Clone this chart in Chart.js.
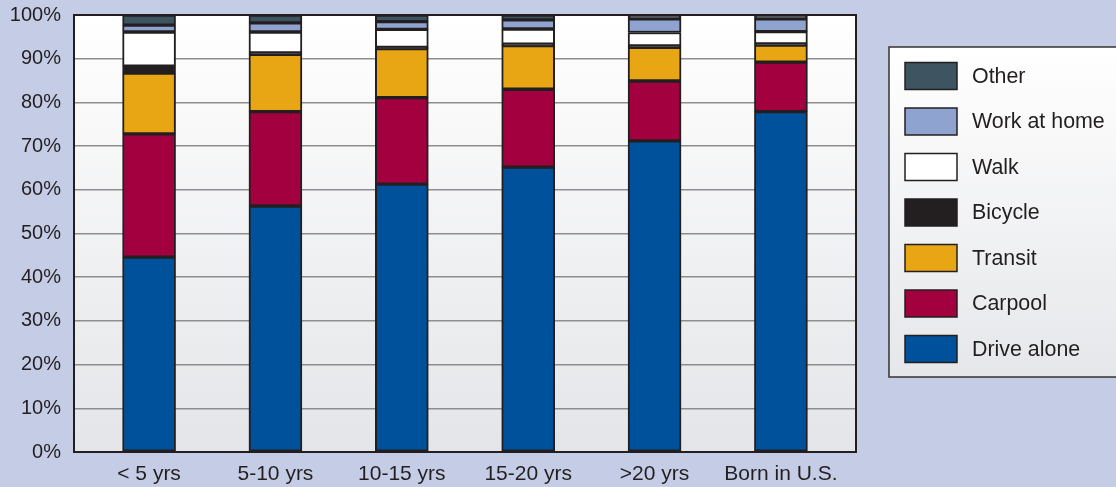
<!DOCTYPE html>
<html>
<head>
<meta charset="utf-8">
<script src="https://cdn.jsdelivr.net/npm/chart.js@4/dist/chart.umd.min.js"></script>
<style>
  html, body { margin: 0; padding: 0; background: #c5cde6; }
  #wrap { width: 1116px; height: 487px; }
</style>
</head>
<body>
<div id="wrap"><canvas id="c" width="1116" height="487"></canvas></div>
<script>
// Commute mode share by years in the U.S. (percent of workers)
const categories = ['< 5 yrs', '5-10 yrs', '10-15 yrs', '15-20 yrs', '>20 yrs', 'Born in U.S.'];
const driveAlone = [44.6, 56.3, 61.3, 65.2, 71.2, 77.9];
const carpool    = [28.2, 21.6, 19.8, 17.8, 13.7, 11.3];
const transit    = [13.9, 13.1, 11.2, 10.0, 7.7, 3.9];
const bicycle    = [1.6, 0.3, 0.3, 0.3, 0.3, 0.3];
const walk       = [7.8, 4.8, 4.1, 3.5, 3.1, 2.8];
const workAtHome = [1.6, 2.1, 1.8, 2.1, 3.1, 2.9];
const other      = [2.3, 1.8, 1.5, 1.1, 0.9, 0.9];
const yTicks     = [0, 10, 20, 30, 40, 50, 60, 70, 80, 90, 100];

const FONT = '"Liberation Sans", Arial, Helvetica, sans-serif';
const INK = '#231f20';

const series = [
  { label: 'Drive alone',  values: driveAlone, color: '#00519b' },
  { label: 'Carpool',      values: carpool,    color: '#a3003f' },
  { label: 'Transit',      values: transit,    color: '#e8a614' },
  { label: 'Bicycle',      values: bicycle,    color: '#231f20' },
  { label: 'Walk',         values: walk,       color: '#ffffff' },
  { label: 'Work at home', values: workAtHome, color: '#8fa3d1' },
  { label: 'Other',        values: other,      color: '#3e5461' }
];

// Backdrop: page colour plus a soft vertical gradient inside the plot
const backdrop = {
  id: 'backdrop',
  beforeDraw(chart) {
    const { ctx, chartArea: a } = chart;
    ctx.save();
    ctx.fillStyle = '#c5cde6';
    ctx.fillRect(0, 0, chart.width, chart.height);
    const g = ctx.createLinearGradient(0, a.top, 0, a.bottom);
    g.addColorStop(0, '#ffffff');
    g.addColorStop(1, '#e4e5e8');
    ctx.fillStyle = g;
    ctx.fillRect(a.left, a.top, a.right - a.left, a.bottom - a.top);
    ctx.restore();
  },
  beforeDatasetsDraw(chart) {
    const { ctx, chartArea: a } = chart;
    ctx.save();
    ctx.strokeStyle = INK;
    ctx.lineWidth = 2;
    ctx.strokeRect(a.left, a.top, a.right - a.left, a.bottom - a.top);
    ctx.restore();
  }
};

// Boxed legend on the right, top entry first
const boxLegend = {
  id: 'boxLegend',
  afterDraw(chart) {
    const { ctx } = chart;
    const x0 = 889, y0 = 47, y1 = 377;
    ctx.save();
    const g = ctx.createLinearGradient(0, y0, 0, y1);
    g.addColorStop(0, '#ffffff');
    g.addColorStop(1, '#e6e7ea');
    ctx.fillStyle = g;
    ctx.fillRect(x0, y0, chart.width - x0 + 5, y1 - y0);
    ctx.strokeStyle = '#333333';
    ctx.lineWidth = 1.5;
    ctx.strokeRect(x0, y0, chart.width - x0 + 5, y1 - y0);

    const ds = chart.data.datasets.slice().reverse();
    ctx.font = '21.4px ' + FONT;
    ctx.textBaseline = 'middle';
    ctx.textAlign = 'left';
    ds.forEach((d, i) => {
      const cy = 76 + i * 45.5;
      ctx.fillStyle = d.backgroundColor;
      ctx.fillRect(905, cy - 13.5, 52, 27);
      ctx.strokeStyle = INK;
      ctx.lineWidth = 1.5;
      ctx.strokeRect(905, cy - 13.5, 52, 27);
      ctx.fillStyle = '#231f20';
      ctx.fillText(d.label, 972, cy + 1);
    });
    ctx.restore();
  }
};

new Chart(document.getElementById('c'), {
  type: 'bar',
  data: {
    datasets: series.map(s => ({
      label: s.label,
      data: s.values.map((v, i) => ({ x: i, y: v })),
      backgroundColor: s.color,
      borderColor: INK,
      borderWidth: 2,
      borderSkipped: false,
      barThickness: 53
    }))
  },
  options: {
    responsive: false,
    animation: false,
    devicePixelRatio: 1,
    layout: { padding: { top: 15, right: 260, bottom: 0, left: 0 } },
    plugins: {
      legend: { display: false },
      tooltip: { enabled: false }
    },
    scales: {
      x: {
        type: 'linear',
        stacked: true,
        offset: false,
        min: -0.594,
        max: 5.594,
        afterBuildTicks(scale) {
          scale.ticks = categories.map((_, i) => ({ value: i }));
        },
        afterFit(scale) {
          scale.height = 35;
          scale.paddingLeft = 0;
          scale.paddingRight = 0;
        },
        grid: { display: false, drawTicks: false, offset: false },
        border: { display: false },
        ticks: {
          autoSkip: false,
          maxRotation: 0,
          padding: 10,
          color: '#231f20',
          font: { family: FONT, size: 21 },
          callback: v => categories[Math.round(v)]
        }
      },
      y: {
        stacked: true,
        min: 0,
        max: 100,
        afterBuildTicks(scale) {
          scale.ticks = yTicks.map(v => ({ value: v }));
        },
        afterFit(scale) {
          scale.width = 74;
          scale.paddingTop = 0;
          scale.paddingBottom = 0;
        },
        grid: { color: '#8e8e8e', lineWidth: 1.5, drawTicks: false },
        border: { display: false },
        ticks: {
          padding: 13,
          color: '#231f20',
          font: { family: FONT, size: 20 },
          callback: v => v + '%'
        }
      }
    }
  },
  plugins: [backdrop, boxLegend]
});
</script>
</body>
</html>
